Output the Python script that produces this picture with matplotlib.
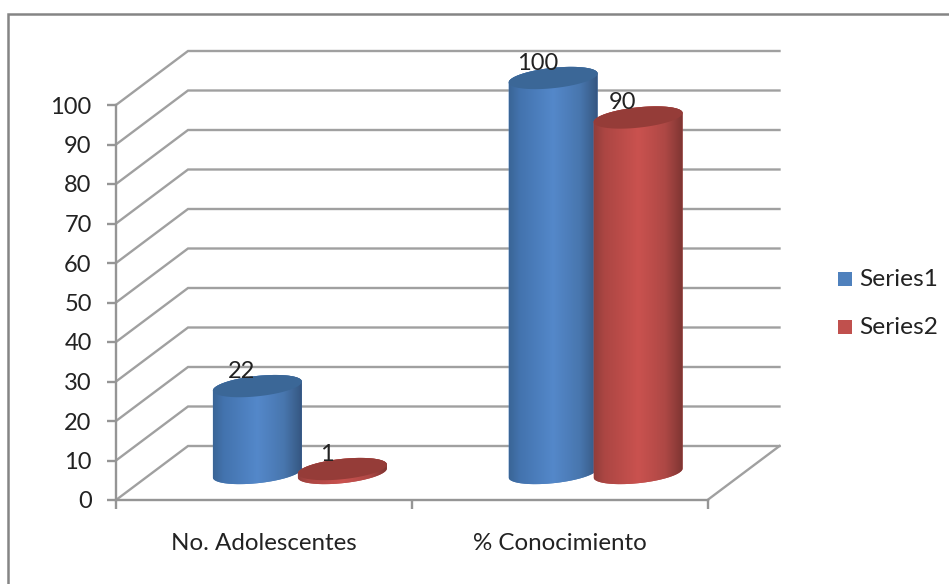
import numpy as np
import matplotlib
matplotlib.use("Agg")
import matplotlib.pyplot as plt
from matplotlib.patches import PathPatch, Rectangle
from matplotlib.path import Path
from matplotlib.colors import LinearSegmentedColormap

# Chart data
categories = ["No. Adolescentes", "% Conocimiento"]
series_names = ["Series1", "Series2"]
series1 = [22, 100]
series2 = [1, 90]
y_ticks = list(range(0, 101, 10))

W, H = 949, 584
plt.rcParams["font.family"] = ["Lato", "DejaVu Sans"]
TEXT = "#222222"
LINE = "#a0a0a0"
AXIS = "#959595"

fig = plt.figure(figsize=(W / 100, H / 100), dpi=100, facecolor="white")

# Outer chart frame
fig.add_artist(Rectangle((8 / W, -0.02), 1.2, 1.02 - 14 / H, transform=fig.transFigure,
                         fill=False, edgecolor="#858585", linewidth=1.8))

# The axes span the front plane of the 3D box
L, R, B, T = 116, 707.5, 500, 105
ax = fig.add_axes([L / W, 1 - B / H, (R - L) / W, (B - T) / H])
ax.patch.set_visible(False)
xmax = len(categories)
px_x = xmax / (R - L)
px_y = 100 / (B - T)

# Depth of the box, expressed in data units
depth_x = 72 * px_x
depth_y = 54 * px_y

# Back wall gridlines with their side-wall diagonals
for v in y_ticks:
    ax.plot([0, depth_x, xmax + depth_x], [v, v + depth_y, v + depth_y],
            color=LINE, lw=1.7, clip_on=False, zorder=1, solid_joinstyle="miter")
ax.plot([xmax, xmax + depth_x], [0, depth_y], color=LINE, lw=1.7, clip_on=False, zorder=1)

# Cylinder shape parameters
half_gap = 42.5 * px_x
rx = 44.5 * px_x
ry = 10.2 * px_y
skew = 4.5 * px_y

blue_side = LinearSegmentedColormap.from_list(
    "blue_side", [(0, "#3a6596"), (0.12, "#4373ae"), (0.5, "#5488ca"),
                  (0.8, "#4876ae"), (0.95, "#3a5f8c"), (1, "#345480")])
red_side = LinearSegmentedColormap.from_list(
    "red_side", [(0, "#923e3b"), (0.12, "#ac4643"), (0.5, "#ca524f"),
                 (0.8, "#ae4845"), (0.95, "#8a3a37"), (1, "#7c3532")])


def ellipse_xy(cx, cy, t):
    return cx + rx * np.cos(t), cy + ry * np.sin(t) + skew * np.cos(t)


def draw_cylinder(cx, base, value, cmap, cap_color, rim_color, z):
    top = base + value
    t_low = np.linspace(np.pi, 2 * np.pi, 80)
    t_up = np.linspace(0, np.pi, 80)
    bx, by = ellipse_xy(cx, base, t_low)
    tx, ty = ellipse_xy(cx, top, t_up)
    verts = np.column_stack([np.r_[bx, tx], np.r_[by, ty]])
    body = PathPatch(Path(verts, closed=False), facecolor=rim_color, edgecolor="none",
                     zorder=z, clip_on=False)
    ax.add_patch(body)
    grad = np.linspace(0, 1, 256).reshape(1, -1)
    im = ax.imshow(grad, cmap=cmap, aspect="auto", zorder=z + 0.1,
                   extent=(cx - rx, cx + rx, base - 2 * ry, top + 2 * ry))
    im.set_clip_box(fig.bbox)
    im.set_clip_path(body)
    t = np.linspace(0, 2 * np.pi, 160)
    ex, ey = ellipse_xy(cx, top, t)
    ax.fill(ex, ey, color=cap_color, zorder=z + 0.2, clip_on=False, lw=0)


series_styles = [
    (series1, -half_gap, blue_side, "#3b6797", "#4f81bd", "#4f81bd"),
    (series2, half_gap, red_side, "#953c38", "#c0504d", "#c0504d"),
]
base_level = depth_y / 2
for s, (vals, off, cmap, cap, rim, swatch) in enumerate(series_styles):
    for i, v in enumerate(vals):
        cx = i + 0.5 + depth_x / 2 + off
        draw_cylinder(cx, base_level, v, cmap, cap, rim, 3 + s + i * 0.01)
        ax.annotate(str(v), (cx, base_level + v), xytext=(-11.5, 10.5),
                    textcoords="offset points", ha="center", va="center",
                    fontsize=17, color=TEXT, zorder=8, annotation_clip=False)

# Axes, ticks and labels
ax.set_xlim(0, xmax)
ax.set_ylim(0, 100)
for side in ("top", "right"):
    ax.spines[side].set_visible(False)
for side in ("left", "bottom"):
    ax.spines[side].set_color(AXIS)
    ax.spines[side].set_linewidth(1.7)
ax.set_yticks(y_ticks)
ax.set_yticklabels([str(v) for v in y_ticks], fontsize=17, color=TEXT)
ax.tick_params(axis="y", length=6.5, width=1.7, color=AXIS, pad=11)
ax.set_xticks(range(xmax + 1))
ax.set_xticklabels([])
ax.tick_params(axis="x", which="major", length=6.5, width=1.7, color=AXIS)
ax.set_xticks([i + 0.5 for i in range(xmax)], minor=True)
ax.set_xticklabels(categories, minor=True, fontsize=17.4, color=TEXT)
ax.tick_params(axis="x", which="minor", length=0, pad=23.5)

# Legend
for name, style, top_px in zip(series_names, series_styles, (272, 320)):
    fig.add_artist(Rectangle((838 / W, 1 - (top_px + 14) / H), 14 / W, 14 / H,
                             transform=fig.transFigure, facecolor=style[5], edgecolor="none"))
    fig.text(859 / W, 1 - (top_px + 7) / H, name, fontsize=17.6, color=TEXT,
             ha="left", va="center")

fig.savefig("out.png", dpi=100, facecolor="white")
